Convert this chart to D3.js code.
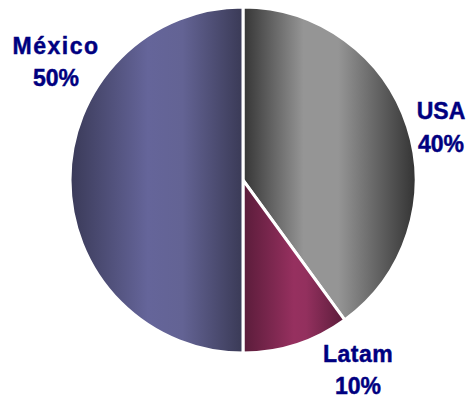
<!DOCTYPE html>
<html>
<head>
<meta charset="utf-8">
<script src="https://cdn.jsdelivr.net/npm/d3@7"></script>
<style>
  html, body { margin: 0; padding: 0; background: #fff; }
  svg { display: block; }
  text { font-family: "Liberation Sans", Arial, sans-serif; font-weight: bold; fill: #000080; stroke: #000080; stroke-width: 0.45px; }
</style>
</head>
<body>
<script>
const categories = ["USA", "Latam", "México"];
const values = [40, 10, 50];
const percentLabels = ["40%", "10%", "50%"];

const W = 472, H = 398;
const cx = 243, cy = 180, R = 173;

const gradStops = {
  "USA":    [[0, "#353535"], [0.35, "#959595"], [0.55, "#959595"], [1, "#333333"]],
  "Latam":  [[0, "#5a1c3a"], [0.5, "#96305f"], [0.62, "#93305e"], [1, "#5a1c3a"]],
  "México": [[0, "#3a3a58"], [0.45, "#65659a"], [0.65, "#636394"], [1, "#3a3a56"]]
};
const labelPos = {
  "USA":    {x: 441, y1: 119, y2: 151.5, ls: 0},
  "Latam":  {x: 358, y1: 362, y2: 393.5, ls: 0.5},
  "México": {x: 56,  y1: 53.5, y2: 86, ls: 1.5}
};

const svg = d3.select("body").append("svg").attr("width", W).attr("height", H);
const defs = svg.append("defs");
categories.forEach((c, i) => {
  const g = defs.append("linearGradient").attr("id", "g" + i)
    .attr("x1", "0").attr("y1", "0").attr("x2", "1").attr("y2", "0");
  gradStops[c].forEach(s => g.append("stop").attr("offset", s[0]).attr("stop-color", s[1]));
});

const pie = d3.pie().sort(null).value(d => d.v);
const arcs = pie(categories.map((c, i) => ({c, v: values[i], p: percentLabels[i], i})));
const arc = d3.arc().innerRadius(0).outerRadius(R);

const g = svg.append("g").attr("transform", `translate(${cx},${cy})`);
g.selectAll("path").data(arcs).join("path")
  .attr("d", arc)
  .attr("fill", d => `url(#g${d.data.i})`)
  .attr("stroke", "#fff")
  .attr("stroke-width", 3)
  .attr("stroke-linejoin", "miter");

const lab = svg.append("g");
arcs.forEach(d => {
  const p = labelPos[d.data.c];
  lab.append("text").attr("x", p.x).attr("y", p.y1).attr("text-anchor", "middle")
    .style("font-size", "23px").style("letter-spacing", p.ls + "px").text(d.data.c);
  lab.append("text").attr("x", p.x).attr("y", p.y2).attr("text-anchor", "middle")
    .style("font-size", "23px").text(d.data.p);
});
</script>
</body>
</html>
